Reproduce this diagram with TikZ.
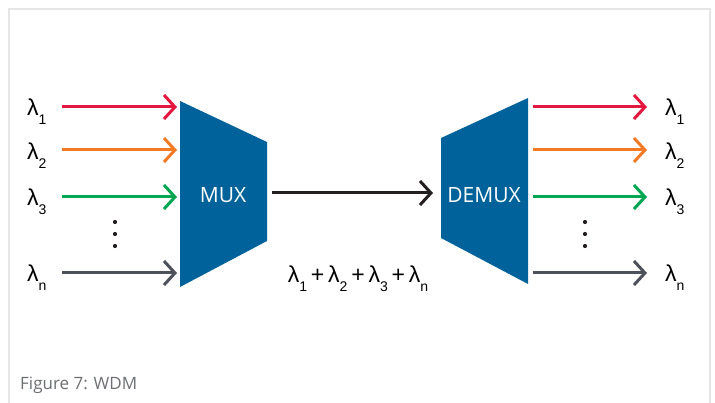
\documentclass[tikz,border=0pt]{standalone}
\usepackage{fontspec}
\setmainfont{Liberation Sans}
\newfontfamily\etiqfont{Open Sans}
\usepackage{tikz}
\usetikzlibrary{positioning,arrows.meta,calc}
\definecolor{rojo}{RGB}{228,23,62}
\definecolor{naranja}{RGB}{243,122,36}
\definecolor{verde}{RGB}{0,166,81}
\definecolor{gris}{RGB}{77,81,89}
\definecolor{negro}{RGB}{35,31,32}
\definecolor{azulbloque}{RGB}{0,98,155}
\definecolor{marco}{RGB}{230,230,230}
\definecolor{grispie}{RGB}{109,110,113}
\newcommand{\lam}[1]{λ\raisebox{-0.38em}{\fontsize{14}{14}\selectfont #1}}

\begin{document}
\begin{tikzpicture}[x=1pt, y=-1pt,
  senal/.style={line width=3pt, -{Straight Barb[length=11pt,width=24pt,line width=3pt]}},
  lambda/.style={anchor=base west, inner sep=0pt, font=\fontsize{23}{23}\selectfont},
  bloque/.style={text=white, font=\etiqfont\fontsize{21}{21}\selectfont, inner sep=0pt},
  punto/.style={circle, fill=negro, inner sep=0pt, minimum size=4.2pt}]
  \useasboundingbox (0,0) rectangle (715,403);
  % marco abierto por abajo
  \draw[marco, line width=2.5pt] (9,403) -- (9,9) -- (710,9) -- (710,403);
  % bloques
  \fill[azulbloque] (180,101) -- (267,142) -- (267,241) -- (180,287) -- cycle;
  \fill[azulbloque] (441,138) -- (528,98) -- (528,284) -- (441,238) -- cycle;
  \node[bloque] (mux) at (223,195) {MUX};
  \node[bloque] (demux) at (484,195) {DEMUX};
  % entradas
  \node[lambda] (entA) at (27,116) {\lam{1}};
  \node[lambda] (entB) at (27,160) {\lam{2}};
  \node[lambda] (entC) at (27,206) {\lam{3}};
  \node[lambda] (entN) at (27,282) {\lam{n}};
  \coordinate (ia) at (62,107);  \coordinate (fa) at (177,107);
  \coordinate (ib) at (62,150);  \coordinate (fb) at (177,150);
  \coordinate (ic) at (62,197);  \coordinate (fc) at (177,197);
  \coordinate (in) at (62,273);  \coordinate (fn) at (177,273);
  \draw[senal, rojo] (ia) -- (fa);
  \draw[senal, naranja] (ib) -- (fb);
  \draw[senal, verde] (ic) -- (fc);
  \draw[senal, gris] (in) -- (fn);
  \node[punto] (pa) at (115,222) {};
  \node[punto] (pb) at (115,234) {};
  \node[punto] (pc) at (115,246) {};
  % enlace
  \coordinate (sal) at (272,193);
  \coordinate (lleg) at (433,193);
  \draw[senal, negro] (sal) -- (lleg);
  \node[anchor=base, inner sep=0pt, font=\fontsize{23}{23}\selectfont] (suma) at (358,283)
    {\lam{1}\,+\,\lam{2}\,+\,\lam{3}\,+\,\lam{n}};
  % salidas
  \coordinate (oa) at (533,107);  \coordinate (ga) at (647,107);
  \coordinate (ob) at (533,150);  \coordinate (gb) at (647,150);
  \coordinate (oc) at (533,197);  \coordinate (gc) at (647,197);
  \coordinate (on) at (533,273);  \coordinate (gn) at (647,273);
  \draw[senal, rojo] (oa) -- (ga);
  \draw[senal, naranja] (ob) -- (gb);
  \draw[senal, verde] (oc) -- (gc);
  \draw[senal, gris] (on) -- (gn);
  \node[lambda] (salA) at (665,116) {\lam{1}};
  \node[lambda] (salB) at (665,160) {\lam{2}};
  \node[lambda] (salC) at (665,206) {\lam{3}};
  \node[lambda] (salN) at (665,282) {\lam{n}};
  \node[punto] (qa) at (585,222) {};
  \node[punto] (qb) at (585,234) {};
  \node[punto] (qc) at (585,246) {};
  % pie
  \node[anchor=base west, inner sep=0pt, text=grispie, font=\etiqfont\fontsize{17}{17}\selectfont]
    (pie) at (20,389) {Figure 7: WDM};
\end{tikzpicture}
\end{document}
